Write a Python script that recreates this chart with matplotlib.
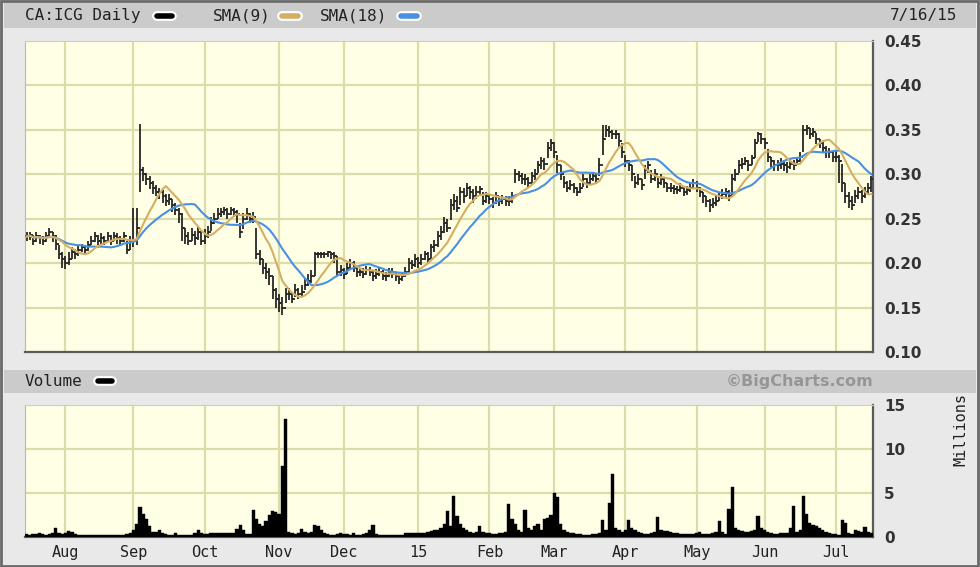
import matplotlib
matplotlib.use("Agg")
import matplotlib.pyplot as plt
import numpy as np
import pandas as pd
from matplotlib.lines import Line2D
from matplotlib.patches import Rectangle

# ------------------------------------------------------------
# CA:ICG daily, 7/16/14 - 7/16/15
# ------------------------------------------------------------
dates = pd.bdate_range("2014-07-16", "2015-07-16")

close = [
    0.230, 0.232, 0.225, 0.230, 0.228, 0.225, 0.230, 0.235, 0.230, 0.222,
    0.210, 0.205, 0.200, 0.205, 0.212, 0.210, 0.215, 0.218, 0.215, 0.220,
    0.225, 0.230, 0.225, 0.228, 0.225, 0.230, 0.225, 0.230, 0.228, 0.225,
    0.230, 0.215, 0.225, 0.225, 0.240, 0.305, 0.300, 0.295, 0.290, 0.285,
    0.280, 0.280, 0.275, 0.270, 0.272, 0.265, 0.260, 0.255, 0.240, 0.230,
    0.225, 0.232, 0.228, 0.235, 0.225, 0.230, 0.235, 0.245, 0.250, 0.255,
    0.258, 0.260, 0.255, 0.260, 0.258, 0.255, 0.235, 0.250, 0.255, 0.250,
    0.252, 0.210, 0.205, 0.195, 0.190, 0.185, 0.170, 0.160, 0.155, 0.150,
    0.165, 0.165, 0.160, 0.170, 0.165, 0.168, 0.175, 0.180, 0.185, 0.210,
    0.210, 0.210, 0.210, 0.212, 0.210, 0.208, 0.190, 0.192, 0.188, 0.195,
    0.200, 0.195, 0.190, 0.190, 0.188, 0.192, 0.190, 0.185, 0.188, 0.190,
    0.186, 0.185, 0.190, 0.188, 0.185, 0.182, 0.185, 0.190, 0.200, 0.198,
    0.205, 0.200, 0.205, 0.210, 0.205, 0.218, 0.220, 0.230, 0.235, 0.245,
    0.240, 0.265, 0.270, 0.262, 0.280, 0.275, 0.285, 0.280, 0.275, 0.280,
    0.283, 0.270, 0.275, 0.272, 0.268, 0.275, 0.270, 0.272, 0.270, 0.270,
    0.275, 0.300, 0.298, 0.295, 0.295, 0.290, 0.298, 0.300, 0.310, 0.315,
    0.312, 0.330, 0.335, 0.325, 0.310, 0.300, 0.290, 0.285, 0.288, 0.285,
    0.280, 0.285, 0.295, 0.290, 0.295, 0.298, 0.295, 0.310, 0.340, 0.350,
    0.348, 0.345, 0.345, 0.338, 0.325, 0.315, 0.310, 0.300, 0.290, 0.295,
    0.288, 0.305, 0.310, 0.295, 0.300, 0.290, 0.295, 0.290, 0.285, 0.285,
    0.283, 0.282, 0.285, 0.280, 0.282, 0.285, 0.290, 0.285, 0.280, 0.275,
    0.270, 0.265, 0.268, 0.270, 0.275, 0.278, 0.280, 0.275, 0.295, 0.300,
    0.310, 0.312, 0.315, 0.310, 0.318, 0.335, 0.345, 0.340, 0.335, 0.320,
    0.315, 0.310, 0.310, 0.312, 0.310, 0.308, 0.312, 0.310, 0.315, 0.320,
    0.350, 0.352, 0.345, 0.348, 0.340, 0.335, 0.330, 0.325, 0.325, 0.320,
    0.320, 0.315, 0.290, 0.275, 0.270, 0.265, 0.275, 0.280, 0.275, 0.280,
    0.285, 0.295,
]

high = [
    0.235, 0.235, 0.232, 0.235, 0.232, 0.230, 0.235, 0.240, 0.235, 0.232,
    0.220, 0.212, 0.208, 0.212, 0.218, 0.216, 0.220, 0.222, 0.220, 0.225,
    0.230, 0.235, 0.232, 0.234, 0.230, 0.235, 0.232, 0.235, 0.234, 0.230,
    0.235, 0.225, 0.230, 0.262, 0.262, 0.357, 0.308, 0.302, 0.298, 0.292,
    0.288, 0.285, 0.282, 0.278, 0.278, 0.272, 0.268, 0.262, 0.256, 0.240,
    0.235, 0.240, 0.236, 0.242, 0.236, 0.238, 0.242, 0.252, 0.256, 0.262,
    0.262, 0.263, 0.262, 0.263, 0.262, 0.260, 0.245, 0.256, 0.262, 0.256,
    0.258, 0.240, 0.215, 0.205, 0.200, 0.195, 0.185, 0.172, 0.165, 0.162,
    0.172, 0.172, 0.168, 0.176, 0.172, 0.175, 0.182, 0.188, 0.192, 0.213,
    0.213, 0.213, 0.213, 0.214, 0.213, 0.212, 0.208, 0.198, 0.195, 0.200,
    0.205, 0.202, 0.196, 0.195, 0.194, 0.197, 0.196, 0.192, 0.193, 0.196,
    0.192, 0.190, 0.195, 0.194, 0.190, 0.188, 0.190, 0.196, 0.206, 0.204,
    0.210, 0.207, 0.210, 0.214, 0.212, 0.222, 0.226, 0.236, 0.242, 0.252,
    0.250, 0.272, 0.278, 0.275, 0.286, 0.284, 0.290, 0.287, 0.283, 0.287,
    0.287, 0.280, 0.280, 0.278, 0.274, 0.280, 0.276, 0.277, 0.276, 0.276,
    0.280, 0.306, 0.304, 0.301, 0.300, 0.297, 0.303, 0.306, 0.315, 0.320,
    0.318, 0.336, 0.340, 0.336, 0.322, 0.310, 0.298, 0.292, 0.293, 0.290,
    0.286, 0.290, 0.300, 0.296, 0.300, 0.303, 0.300, 0.318, 0.356, 0.355,
    0.354, 0.350, 0.350, 0.346, 0.335, 0.322, 0.316, 0.310, 0.298, 0.300,
    0.295, 0.310, 0.315, 0.305, 0.306, 0.298, 0.300, 0.296, 0.290, 0.290,
    0.288, 0.287, 0.290, 0.285, 0.287, 0.290, 0.295, 0.292, 0.286, 0.280,
    0.276, 0.272, 0.273, 0.276, 0.280, 0.283, 0.285, 0.282, 0.300, 0.306,
    0.316, 0.318, 0.320, 0.316, 0.322, 0.340, 0.348, 0.346, 0.341, 0.328,
    0.320, 0.316, 0.316, 0.318, 0.316, 0.314, 0.318, 0.316, 0.320, 0.325,
    0.356, 0.356, 0.352, 0.352, 0.346, 0.340, 0.336, 0.332, 0.330, 0.326,
    0.326, 0.322, 0.312, 0.290, 0.280, 0.275, 0.282, 0.286, 0.282, 0.286,
    0.290, 0.298,
]

low = [
    0.225, 0.226, 0.220, 0.224, 0.222, 0.220, 0.224, 0.228, 0.224, 0.215,
    0.205, 0.195, 0.193, 0.198, 0.205, 0.205, 0.208, 0.212, 0.210, 0.214,
    0.220, 0.224, 0.220, 0.222, 0.220, 0.224, 0.220, 0.225, 0.222, 0.220,
    0.224, 0.210, 0.215, 0.218, 0.220, 0.280, 0.292, 0.288, 0.283, 0.278,
    0.275, 0.272, 0.268, 0.264, 0.265, 0.258, 0.254, 0.245, 0.225, 0.222,
    0.220, 0.225, 0.220, 0.226, 0.220, 0.222, 0.228, 0.236, 0.244, 0.250,
    0.252, 0.254, 0.250, 0.254, 0.252, 0.245, 0.228, 0.238, 0.248, 0.245,
    0.245, 0.205, 0.198, 0.188, 0.182, 0.175, 0.160, 0.150, 0.145, 0.142,
    0.155, 0.158, 0.155, 0.162, 0.160, 0.162, 0.170, 0.174, 0.178, 0.185,
    0.206, 0.206, 0.206, 0.207, 0.205, 0.200, 0.186, 0.186, 0.182, 0.188,
    0.193, 0.190, 0.184, 0.185, 0.183, 0.187, 0.185, 0.180, 0.182, 0.185,
    0.181, 0.180, 0.184, 0.183, 0.180, 0.177, 0.180, 0.184, 0.190, 0.193,
    0.196, 0.195, 0.198, 0.203, 0.200, 0.205, 0.212, 0.218, 0.226, 0.234,
    0.235, 0.248, 0.260, 0.257, 0.265, 0.268, 0.275, 0.272, 0.268, 0.272,
    0.275, 0.265, 0.268, 0.266, 0.262, 0.266, 0.264, 0.266, 0.264, 0.264,
    0.268, 0.290, 0.292, 0.289, 0.288, 0.285, 0.290, 0.294, 0.302, 0.306,
    0.305, 0.318, 0.326, 0.318, 0.302, 0.293, 0.284, 0.280, 0.282, 0.279,
    0.276, 0.279, 0.286, 0.285, 0.288, 0.292, 0.289, 0.298, 0.322, 0.342,
    0.342, 0.340, 0.340, 0.330, 0.318, 0.308, 0.304, 0.292, 0.284, 0.288,
    0.282, 0.295, 0.302, 0.290, 0.292, 0.284, 0.288, 0.284, 0.280, 0.280,
    0.278, 0.278, 0.280, 0.275, 0.277, 0.280, 0.284, 0.280, 0.274, 0.268,
    0.263, 0.258, 0.262, 0.264, 0.270, 0.272, 0.274, 0.270, 0.276, 0.292,
    0.302, 0.306, 0.310, 0.304, 0.310, 0.318, 0.336, 0.334, 0.328, 0.314,
    0.308, 0.304, 0.304, 0.306, 0.304, 0.302, 0.306, 0.305, 0.310, 0.314,
    0.325, 0.344, 0.340, 0.342, 0.334, 0.330, 0.324, 0.318, 0.318, 0.314,
    0.314, 0.290, 0.280, 0.268, 0.262, 0.260, 0.268, 0.272, 0.268, 0.273,
    0.278, 0.280,
]

# volume, millions of shares
volume = [
    0.3, 0.2, 0.3, 0.3, 0.5, 0.3, 0.2, 0.3, 0.4, 1.0,
    0.5, 0.3, 0.4, 0.7, 0.6, 0.3, 0.2, 0.2, 0.2, 0.2,
    0.2, 0.2, 0.2, 0.2, 0.2, 0.2, 0.2, 0.2, 0.2, 0.2,
    0.2, 0.3, 0.4, 0.8, 1.5, 3.4, 2.6, 2.0, 1.2, 0.6,
    0.6, 0.8, 0.5, 0.3, 0.2, 0.2, 0.5, 0.2, 0.2, 0.2,
    0.2, 0.2, 0.5, 0.8, 0.5, 0.3, 0.3, 0.4, 0.4, 0.4,
    0.4, 0.4, 0.4, 0.4, 0.5, 0.9, 1.3, 0.8, 0.3, 0.3,
    3.1, 2.0, 1.5, 1.2, 1.8, 2.5, 2.9, 2.8, 2.6, 8.0,
    13.4, 0.6, 0.4, 0.3, 0.4, 0.9, 0.6, 0.4, 0.6, 1.3,
    1.2, 0.8, 0.5, 0.3, 0.2, 0.2, 0.3, 0.4, 0.3, 0.3,
    0.2, 0.4, 0.2, 0.2, 0.3, 0.4, 0.8, 1.3, 0.3, 0.2,
    0.2, 0.2, 0.2, 0.2, 0.2, 0.2, 0.2, 0.4, 0.4, 0.4,
    0.4, 0.4, 0.4, 0.4, 0.6, 0.7, 0.8, 0.8, 1.0, 1.5,
    2.9, 1.2, 4.6, 2.4, 1.5, 1.0, 0.8, 0.6, 0.5, 0.6,
    1.2, 0.6, 0.4, 0.4, 0.3, 0.3, 0.4, 0.5, 0.6, 3.7,
    2.0, 1.5, 0.8, 0.6, 3.1, 1.0, 0.8, 1.2, 1.5, 0.8,
    2.0, 2.2, 2.5, 5.0, 4.5, 1.5, 0.8, 0.6, 0.4, 0.4,
    0.3, 0.3, 0.2, 0.2, 0.2, 0.3, 0.3, 0.5, 1.9, 0.8,
    3.8, 7.1, 1.0, 0.8, 0.6, 0.8, 1.9, 1.0, 0.8, 0.6,
    0.5, 0.3, 0.3, 0.4, 0.6, 2.3, 0.8, 0.7, 0.7, 0.6,
    0.5, 0.4, 0.3, 0.3, 0.3, 0.3, 0.3, 0.4, 0.6, 0.3,
    0.3, 0.3, 0.4, 0.6, 1.8, 0.6, 0.3, 3.2, 5.7, 1.0,
    0.8, 0.7, 0.6, 0.6, 0.7, 0.8, 2.4, 1.0, 0.8, 0.6,
    0.5, 0.3, 0.3, 0.4, 0.4, 0.5, 1.0, 3.5, 0.6, 0.8,
    4.7, 2.6, 1.6, 1.4, 1.2, 1.0, 0.8, 0.6, 0.4, 0.3,
    0.3, 0.2, 1.9, 1.6, 0.5, 0.3, 0.8, 0.7, 0.6, 1.1,
    0.6, 0.5,
]

month_labels = ["Aug", "Sep", "Oct", "Nov", "Dec", "15",
                "Feb", "Mar", "Apr", "May", "Jun", "Jul"]
price_ticks = [0.10, 0.15, 0.20, 0.25, 0.30, 0.35, 0.40, 0.45]
volume_ticks = [0, 5, 10, 15]

# ------------------------------------------------------------
# colours / fonts
# ------------------------------------------------------------
BG = "#e9e9e9"
BAR_GRAY = "#cbcbcb"
PLOT_BG = "#ffffe6"
GRID = "#dcdca8"
SMA9_C = "#d6ae62"
SMA18_C = "#4a90e2"
MONO = "DejaVu Sans Mono"

x = np.arange(len(dates))
c = np.array(close)
h = np.array(high)
l = np.array(low)
o = np.r_[c[0], c[:-1]]          # open tick drawn at the prior close
sma9 = pd.Series(c).rolling(9, min_periods=1).mean()
sma18 = pd.Series(c).rolling(18, min_periods=1).mean()

months = dates.month
month_starts = np.flatnonzero(np.r_[False, months[1:] != months[:-1]])

fig = plt.figure(figsize=(9.8, 5.67), dpi=100, facecolor=BG)

# header bars
fig.patches.append(Rectangle((0.004, 0.950), 0.992, 0.044, transform=fig.transFigure,
                             facecolor=BAR_GRAY, edgecolor="none", zorder=0))
fig.patches.append(Rectangle((0.004, 0.307), 0.992, 0.041, transform=fig.transFigure,
                             facecolor=BAR_GRAY, edgecolor="none", zorder=0))
# outer frame
fig.patches.append(Rectangle((0.001, 0.002), 0.997, 0.996, transform=fig.transFigure,
                             facecolor="none", edgecolor="#6a6a6a", lw=2.0, zorder=1))

ax = fig.add_axes([0.0255, 0.3792, 0.8653, 0.5485], facecolor=PLOT_BG)
axv = fig.add_axes([0.0255, 0.0530, 0.8653, 0.2330], facecolor=PLOT_BG)

for a in (ax, axv):
    a.set_xlim(-0.5, len(x) - 0.5)
    for m in month_starts:
        a.axvline(m, color=GRID, lw=1.6, zorder=0)
    a.spines["left"].set_color("#b8b8b8")
    a.spines["top"].set_color("#d0d0b0")
    a.spines["right"].set_color("#5a5a5a")
    a.spines["bottom"].set_color("#5a5a5a")
    a.spines["right"].set_linewidth(1.6)
    a.spines["bottom"].set_linewidth(1.6)
    a.yaxis.tick_right()
    a.tick_params(axis="y", length=0, pad=8)
    a.tick_params(axis="x", length=0)

# ---------------- price panel ----------------
ax.set_ylim(0.10, 0.45)
ax.set_yticks(price_ticks)
ax.set_yticklabels([f"{t:.2f}" for t in price_ticks], fontsize=11,
                   fontweight="bold", color="#333333", family="DejaVu Sans")
for t in price_ticks[1:-1]:
    ax.axhline(t, color=GRID, lw=1.6, zorder=0)
ax.set_xticks([])

ax.vlines(x, l, h, color="#262626", lw=1.3, zorder=3)
ax.hlines(o, x - 0.6, x, color="#262626", lw=1.3, zorder=3)
ax.hlines(c, x, x + 0.6, color="#262626", lw=1.3, zorder=3)
ax.plot(x, sma18, color=SMA18_C, lw=1.5, zorder=4)
ax.plot(x, sma9, color=SMA9_C, lw=1.5, zorder=4)

# ---------------- volume panel ----------------
axv.set_ylim(0, 15)
axv.set_yticks(volume_ticks)
axv.set_yticklabels([str(t) for t in volume_ticks], fontsize=11,
                    fontweight="bold", color="#333333", family="DejaVu Sans")
for t in volume_ticks[1:-1]:
    axv.axhline(t, color=GRID, lw=1.6, zorder=0)
axv.bar(x, volume, width=1.0, color="black", edgecolor="black", lw=0.3, zorder=3)
axv.set_xticks(month_starts)
axv.set_xticklabels(month_labels, fontsize=11, family=MONO, color="#222222")
axv.tick_params(axis="x", pad=6)

# ---------------- header texts ----------------
def swatch(x0, x1, y, color):
    fig.add_artist(Line2D([x0, x1], [y, y], transform=fig.transFigure, color="white",
                          lw=7, solid_capstyle="round", zorder=5))
    fig.add_artist(Line2D([x0, x1], [y, y], transform=fig.transFigure, color=color,
                          lw=4, solid_capstyle="round", zorder=6))

fig.text(0.025, 0.972, "CA:ICG Daily", fontsize=11.5, family=MONO, color="#222222",
         va="center", ha="left")
swatch(0.160, 0.176, 0.972, "black")
fig.text(0.217, 0.972, "SMA(9)", fontsize=11.5, family=MONO, color="#222222",
         va="center", ha="left")
swatch(0.288, 0.304, 0.972, SMA9_C)
fig.text(0.326, 0.972, "SMA(18)", fontsize=11.5, family=MONO, color="#222222",
         va="center", ha="left")
swatch(0.409, 0.425, 0.972, SMA18_C)
fig.text(0.977, 0.972, "7/16/15", fontsize=11.5, family=MONO, color="#222222",
         va="center", ha="right")

fig.text(0.025, 0.328, "Volume", fontsize=11.5, family=MONO, color="#222222",
         va="center", ha="left")
swatch(0.100, 0.114, 0.328, "black")
fig.text(0.891, 0.328, "\u00a9BigCharts.com", fontsize=11.5, fontweight="bold",
         family="DejaVu Sans", color="#969696", va="center", ha="right")

fig.text(0.980, 0.242, "Millions", fontsize=11, family=MONO, color="#222222",
         rotation=90, va="center", ha="center")

fig.savefig("out.png", dpi=100, facecolor=BG)
